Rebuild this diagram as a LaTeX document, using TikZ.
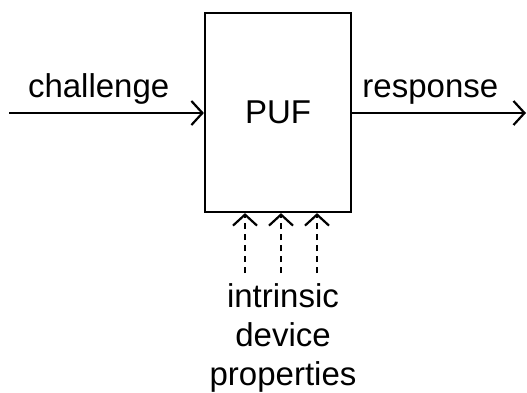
\documentclass[tikz,border=0pt]{standalone}
\usepackage{fontspec}
\setmainfont{Liberation Sans}
\usetikzlibrary{arrows.meta}
\tikzstyle{pufbox} = [rectangle, draw, line width=2.2pt,
    minimum width=146pt, minimum height=199pt, inner sep=0pt]
\tikzstyle{lbl} = [inner sep=0pt, above=8pt]

\begin{document}
\begin{tikzpicture}[x=1pt,y=-1pt,->,>={Straight Barb[length=11pt,width=24pt]},
                    line width=2.2pt,font=\fontsize{33}{39}\selectfont]
  \useasboundingbox (0,0) rectangle (527,392);
  \node[pufbox] (puf) at (278,112.5) {PUF};
  \coordinate (cin) at (9,113);
  \coordinate (rout) at (526,113);
  \node[align=center, anchor=north, inner xsep=0pt, inner ysep=9pt] (props) at (283,273)
    {intrinsic\\device\\properties};

  \draw (cin) -- node[lbl,pos=0.46] {challenge} (puf.west |- cin);
  \draw (puf.east |- rout) -- node[lbl,pos=0.45] {response} (rout);
  % the three dashed inputs from below
  \foreach \dx in {-38,-2,34}
    \draw[dash pattern=on 6pt off 5pt] ([xshift=\dx pt]props.north)
      -- ([xshift=\dx pt]props.north |- puf.south);
\end{tikzpicture}
\end{document}
